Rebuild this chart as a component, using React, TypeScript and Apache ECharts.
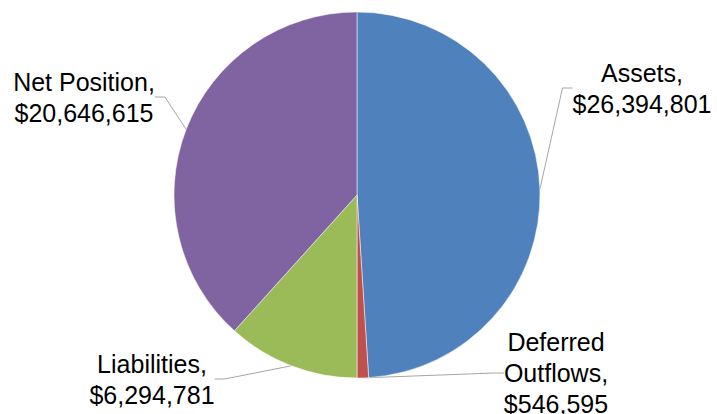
import React, { useEffect, useRef } from "react";
import * as echarts from "echarts";

const categories = ["Assets", "Deferred Outflows", "Liabilities", "Net Position"];
const labelNames = ["Assets", "Deferred\nOutflows", "Liabilities", "Net Position"];
const values = [26394801, 546595, 6294781, 20646615];
const colors = ["#4F81BD", "#C0504D", "#9BBB59", "#8064A2"];
const labelPos = [
  [642, 88],
  [556, 373],
  [152, 379],
  [84, 97],
];

function fmt(v: number) {
  return "$" + v.toString().replace(/\B(?=(\d{3})+(?!\d))/g, ",");
}

export default function App() {
  const ref = useRef<HTMLDivElement>(null);
  useEffect(() => {
    if (!ref.current) return;
    const chart = echarts.init(ref.current, undefined, { renderer: "svg" });
    chart.setOption({
      animation: false,
      series: [
        {
          type: "pie",
          center: [357, 195],
          radius: 183,
          startAngle: 90,
          clockwise: true,
          data: categories.map((c, i) => ({
            name: c,
            value: values[i],
            itemStyle: { color: colors[i] },
          })),
          itemStyle: { borderColor: "#fff", borderWidth: 0.5 },
          label: {
            show: true,
            position: "outside",
            formatter: (p: any) => labelNames[p.dataIndex] + ",\n" + fmt(p.value),
            fontFamily: "Liberation Sans, Arial, sans-serif",
            fontSize: 25,
            lineHeight: 31,
            color: "#000",
            align: "center",
          },
          labelLine: {
            show: true,
            length: 10,
            length2: 10,
            lineStyle: { color: "#A6A6A6", width: 1 },
          },
          labelLayout: (params: any) => {
            const p = labelPos[params.dataIndex];
            return { x: p[0], y: p[1], align: "center", verticalAlign: "middle" };
          },
          emphasis: { disabled: true },
        },
      ],
    });
    return () => chart.dispose();
  }, []);
  return (
    <div
      ref={ref}
      style={{ position: "fixed", left: 0, top: 0, width: 717, height: 414, background: "#fff" }}
    />
  );
}
